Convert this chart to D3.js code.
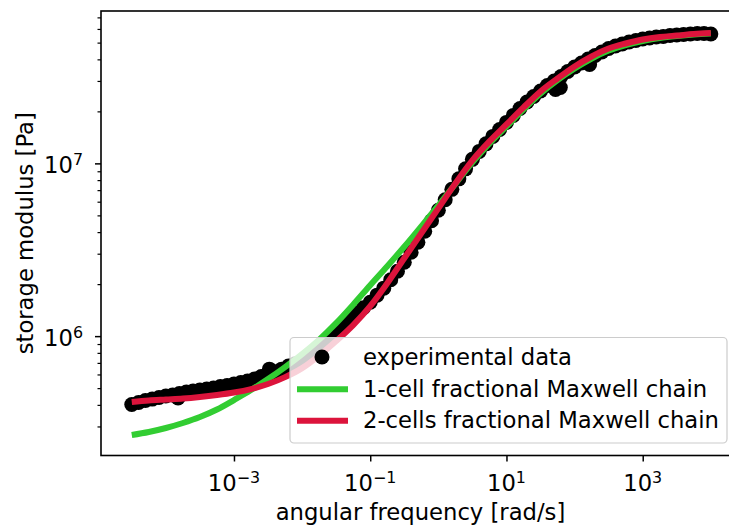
<!DOCTYPE html>
<html>
<head>
<meta charset="utf-8">
<script src="https://cdn.jsdelivr.net/npm/d3@7"></script>
<style>
  body { margin: 0; background: #fff; }
  svg { display: block; }
  text { font-family: "DejaVu Sans", sans-serif; fill: #000; }
</style>
</head>
<body>
<svg id="chart" width="729" height="532"></svg>
<script>
// Measured storage modulus G' [Pa] against angular frequency ω [rad/s]
const omegaData = [
  3.16e-5, 3.98e-5, 5.01e-5, 6.31e-5, 7.94e-5, 1.00e-4, 1.26e-4, 1.51e-4, 1.58e-4, 2.00e-4,
  2.51e-4, 3.16e-4, 3.98e-4, 5.01e-4, 6.31e-4, 7.94e-4, 1.00e-3, 1.26e-3, 1.58e-3, 2.00e-3,
  2.51e-3, 3.16e-3, 3.31e-3, 3.98e-3, 5.01e-3, 6.31e-3, 7.94e-3, 1.00e-2, 1.26e-2, 1.58e-2,
  2.00e-2, 2.51e-2, 3.16e-2, 3.98e-2, 5.01e-2, 6.31e-2, 7.94e-2, 0.100, 0.126, 0.158,
  0.200, 0.251, 0.316, 0.398, 0.501, 0.631, 0.794, 1.00, 1.26, 1.58,
  2.00, 2.51, 3.16, 3.98, 5.01, 6.31, 7.94, 10.0, 12.6, 15.8,
  20.0, 25.1, 31.6, 39.8, 50.1, 52.5, 61.7, 63.1, 79.4, 100,
  126, 158, 166, 200, 251, 316, 398, 501, 631, 794,
  1000, 1260, 1580, 2000, 2510, 3160, 3980, 5010, 6310, 7940, 10000
];
const storageData = [
  4.02e5, 4.13e5, 4.24e5, 4.32e5, 4.41e5, 4.50e5, 4.56e5, 4.38e5, 4.65e5, 4.75e5,
  4.81e5, 4.88e5, 4.94e5, 5.01e5, 5.11e5, 5.18e5, 5.28e5, 5.39e5, 5.50e5, 5.64e5,
  5.83e5, 6.03e5, 6.44e5, 6.23e5, 6.44e5, 6.71e5, 6.93e5, 7.17e5, 7.66e5, 8.30e5,
  8.99e5, 9.80e5, 1.069e6, 1.158e6, 1.254e6, 1.358e6, 1.461e6, 1.572e6, 1.726e6, 1.895e6,
  2.121e6, 2.375e6, 2.677e6, 3.059e6, 3.495e6, 4.045e6, 4.652e6, 5.349e6, 6.152e6, 7.074e6,
  8.136e6, 9.295e6, 1.055e7, 1.173e7, 1.297e7, 1.433e7, 1.572e7, 1.726e7, 1.895e7, 2.079e7,
  2.267e7, 2.440e7, 2.625e7, 2.824e7, 2.998e7, 2.677e7, 2.749e7, 3.184e7, 3.402e7, 3.613e7,
  3.810e7, 4.018e7, 3.736e7, 4.210e7, 4.411e7, 4.621e7, 4.778e7, 4.907e7, 5.039e7, 5.140e7,
  5.244e7, 5.314e7, 5.385e7, 5.421e7, 5.494e7, 5.531e7, 5.568e7, 5.606e7, 5.643e7, 5.643e7, 5.606e7
];

// Model curves evaluated on a quarter-decade frequency grid
const omegaFit = [
  3.16e-5, 5.62e-5, 1.00e-4, 1.78e-4, 3.16e-4, 5.62e-4, 1.00e-3, 1.78e-3, 3.16e-3, 5.62e-3,
  1.00e-2, 1.78e-2, 3.16e-2, 5.62e-2, 0.100, 0.178, 0.316, 0.562, 1.00, 1.78,
  3.16, 5.62, 10.0, 17.8, 31.6, 56.2, 100, 178, 316, 562,
  1000, 1780, 3160, 5620, 10000
];
const fitOneCell = [
  2.677e5, 2.787e5, 2.939e5, 3.142e5, 3.402e5, 3.759e5, 4.267e5, 4.875e5, 5.642e5, 6.62e5,
  7.87e5, 9.545e5, 1.189e6, 1.521e6, 1.971e6, 2.539e6, 3.291e6, 4.323e6, 5.716e6, 7.613e6,
  1.013e7, 1.305e7, 1.636e7, 2.052e7, 2.539e7, 3.038e7, 3.541e7, 4.046e7, 4.50e7, 4.842e7,
  5.107e7, 5.315e7, 5.458e7, 5.568e7, 5.64e7
];
const fitTwoCells = [
  4.155e5, 4.24e5, 4.295e5, 4.35e5, 4.44e5, 4.56e5, 4.715e5, 4.94e5, 5.28e5, 5.79e5,
  6.53e5, 7.72e5, 9.36e5, 1.158e6, 1.491e6, 2.025e6, 2.824e6, 3.94e6, 5.49e6, 7.66e6,
  1.041e7, 1.340e7, 1.680e7, 2.107e7, 2.608e7, 3.10e7, 3.637e7, 4.155e7, 4.62e7, 4.94e7,
  5.21e7, 5.385e7, 5.49e7, 5.61e7, 5.68e7
];

const xTickExponents = [-3, -1, 1, 3];
const yTickExponents = [6, 7];
const legendLabels = ["experimental data", "1-cell fractional Maxwell chain", "2-cells fractional Maxwell chain"];
const xLabel = "angular frequency [rad/s]";
const yLabel = "storage modulus [Pa]";

(function draw() {
  const GREEN = "#32cd32";
  const RED = "#dc143c";
  const FS = 22.7;

  const svg = d3.select("#chart");
  const plotLeft = 101, plotRight = 740, plotTop = 11, plotBottom = 455.5;

  const x = d3.scaleLog().domain([Math.pow(10, -4.952), Math.pow(10, 4.428)]).range([plotLeft, plotRight]);
  const y = d3.scaleLog().domain([Math.pow(10, 5.309), Math.pow(10, 7.882)]).range([plotBottom, plotTop]);

  // experimental points
  const pts = omegaData.map((w, i) => [w, storageData[i]]);
  svg.append("g").selectAll("circle").data(pts).join("circle")
    .attr("cx", d => x(d[0])).attr("cy", d => y(d[1])).attr("r", 7.5).attr("fill", "#000");

  // model curves
  const line = d3.line().x(d => x(d[0])).y(d => y(d[1])).curve(d3.curveMonotoneX);
  svg.append("path").datum(omegaFit.map((w, i) => [w, fitOneCell[i]]))
    .attr("d", line).attr("fill", "none").attr("stroke", GREEN).attr("stroke-width", 6);
  svg.append("path").datum(omegaFit.map((w, i) => [w, fitTwoCells[i]]))
    .attr("d", line).attr("fill", "none").attr("stroke", RED).attr("stroke-width", 6);

  // axes frame
  svg.append("rect").attr("x", plotLeft).attr("y", plotTop)
    .attr("width", plotRight - plotLeft).attr("height", plotBottom - plotTop)
    .attr("fill", "none").attr("stroke", "#000").attr("stroke-width", 1.6);

  // x ticks
  const gx = svg.append("g").attr("transform", `translate(0,${plotBottom})`)
    .call(d3.axisBottom(x).tickValues(xTickExponents.map(e => Math.pow(10, e)))
      .tickSize(6).tickSizeOuter(0).tickFormat(""));
  gx.select(".domain").remove();
  gx.selectAll(".tick line").attr("stroke-width", 1.5);

  // y ticks, minor then major
  const yMinor = [];
  for (let e = 5; e <= 7; e++) for (let k = 2; k <= 9; k++) {
    const v = k * Math.pow(10, e);
    if (v > y.domain()[0] && v < y.domain()[1]) yMinor.push(v);
  }
  const gyMinor = svg.append("g").attr("transform", `translate(${plotLeft},0)`)
    .call(d3.axisLeft(y).tickValues(yMinor).tickSize(3.5).tickSizeOuter(0).tickFormat(""));
  gyMinor.select(".domain").remove();
  gyMinor.selectAll(".tick line").attr("stroke-width", 1.2);
  const gy = svg.append("g").attr("transform", `translate(${plotLeft},0)`)
    .call(d3.axisLeft(y).tickValues(yTickExponents.map(e => Math.pow(10, e)))
      .tickSize(6).tickSizeOuter(0).tickFormat(""));
  gy.select(".domain").remove();
  gy.selectAll(".tick line").attr("stroke-width", 1.5);

  function powerLabel(sel, exp) {
    sel.append("tspan").text("10");
    sel.append("tspan").attr("font-size", FS * 0.7).attr("dy", -8)
      .text(exp < 0 ? "\u2212" + Math.abs(exp) : String(exp));
  }

  svg.append("g").selectAll("text").data(xTickExponents).join("text")
    .attr("x", d => x(Math.pow(10, d))).attr("y", 491)
    .attr("text-anchor", "middle").attr("font-size", FS)
    .each(function (d) { powerLabel(d3.select(this), d); });

  svg.append("g").selectAll("text").data(yTickExponents).join("text")
    .attr("x", 83).attr("y", d => y(Math.pow(10, d)) + 9.5)
    .attr("text-anchor", "end").attr("font-size", FS)
    .each(function (d) { powerLabel(d3.select(this), d); });

  // axis titles
  svg.append("text").attr("x", (plotLeft + plotRight) / 2).attr("y", 520)
    .attr("text-anchor", "middle").attr("font-size", FS).text(xLabel);
  svg.append("text").attr("transform", `translate(33,${(plotTop + plotBottom) / 2}) rotate(-90)`)
    .attr("text-anchor", "middle").attr("font-size", FS).text(yLabel);

  // legend
  const lg = svg.append("g");
  lg.append("rect").attr("x", 290).attr("y", 337.5).attr("width", 437).attr("height", 105.5)
    .attr("rx", 4).attr("fill", "#fff").attr("fill-opacity", 0.8)
    .attr("stroke", "#cccccc").attr("stroke-width", 1.2);
  const rowY = [357, 389.3, 420.7];
  lg.append("circle").attr("cx", 322).attr("cy", rowY[0]).attr("r", 7.5).attr("fill", "#000");
  lg.append("line").attr("x1", 297).attr("x2", 348).attr("y1", rowY[1]).attr("y2", rowY[1])
    .attr("stroke", GREEN).attr("stroke-width", 6);
  lg.append("line").attr("x1", 297).attr("x2", 348).attr("y1", rowY[2]).attr("y2", rowY[2])
    .attr("stroke", RED).attr("stroke-width", 6);
  lg.selectAll("text.lbl").data(legendLabels).join("text").attr("class", "lbl")
    .attr("x", 363).attr("y", (d, i) => rowY[i] + 7.5).attr("font-size", FS).text(d => d);
})();
</script>
</body>
</html>
